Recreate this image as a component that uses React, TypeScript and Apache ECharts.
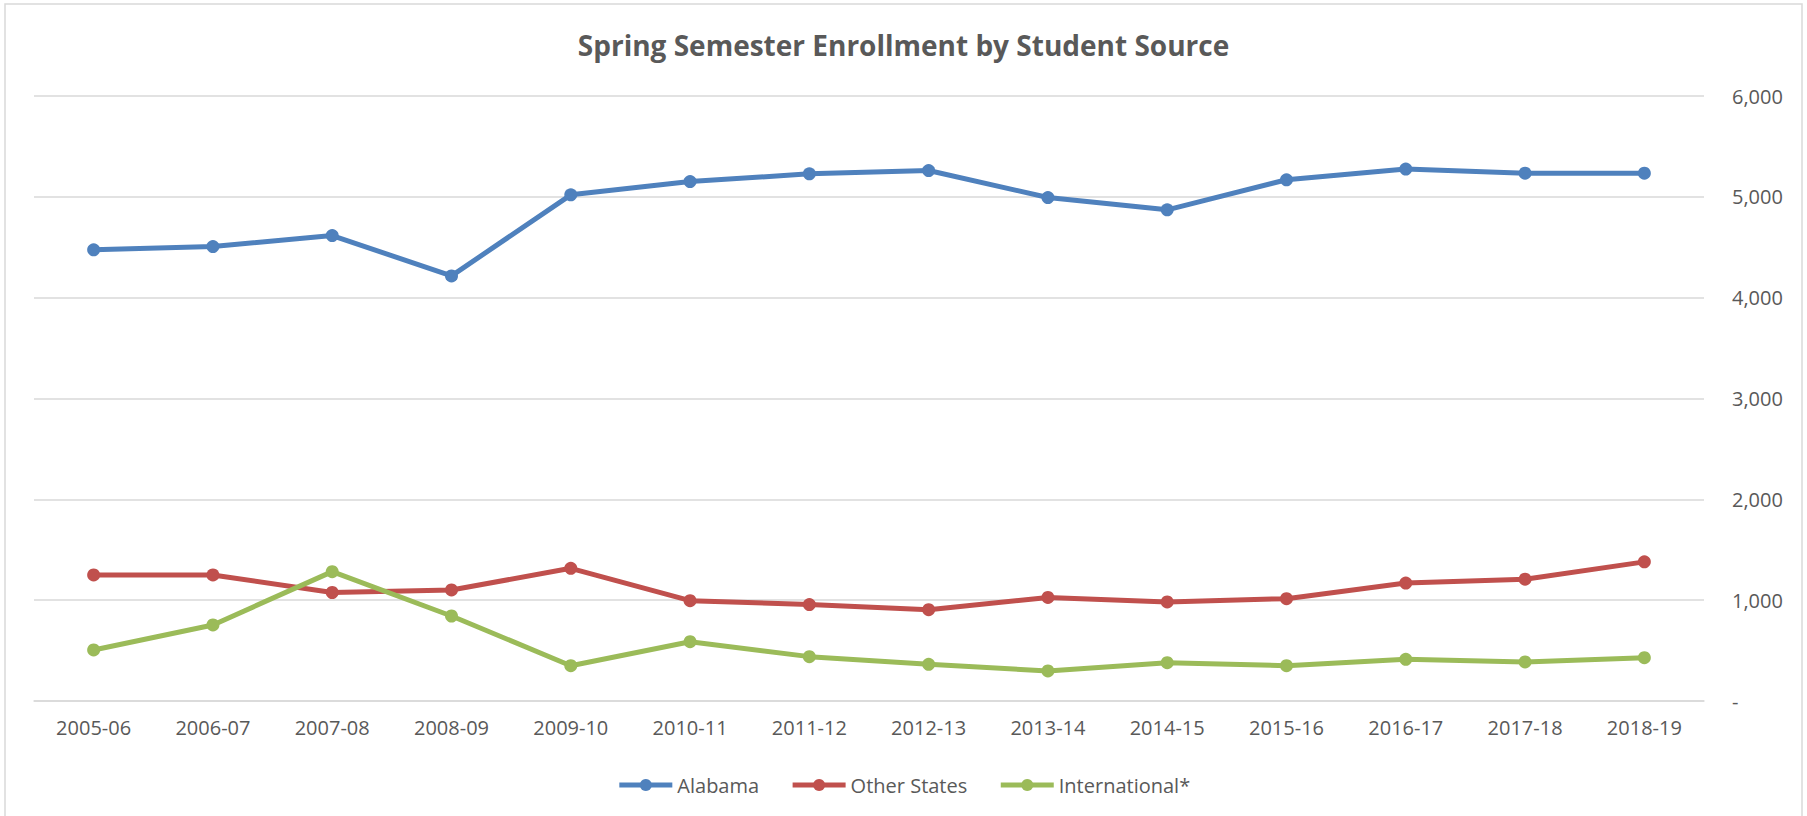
import React, { useEffect, useRef } from "react";
import * as echarts from "echarts";

const categories = [
  "2005-06", "2006-07", "2007-08", "2008-09", "2009-10", "2010-11", "2011-12",
  "2012-13", "2013-14", "2014-15", "2015-16", "2016-17", "2017-18", "2018-19",
];
const alabama = [4474, 4507, 4616, 4216, 5020, 5152, 5228, 5261, 4993, 4871, 5169, 5275, 5235, 5235];
const otherStates = [1250, 1250, 1076, 1101, 1316, 995, 956, 906, 1027, 982, 1015, 1170, 1208, 1380];
const international = [506, 754, 1283, 843, 350, 588, 440, 364, 298, 380, 350, 413, 387, 430];
const yTicks = { min: 0, max: 6000, interval: 1000 };
const title = "Spring Semester Enrollment by Student Source";

const FONT = "'Open Sans', 'Noto Sans', sans-serif";
const TEXT = "#595959";
const GRID = "#D9D9D9";

export default function App() {
  const ref = useRef<HTMLDivElement>(null);
  useEffect(() => {
    if (!ref.current) return;
    const chart = echarts.init(ref.current, undefined, { renderer: "svg" });
    const mk = (name: string, data: number[], color: string) => ({
      name,
      type: "line",
      data,
      color,
      symbol: "circle",
      symbolSize: 13,
      lineStyle: { width: 5, color },
      itemStyle: { color },
    });
    chart.setOption({
      animation: false,
      backgroundColor: "#fff",
      textStyle: { fontFamily: FONT },
      title: {
        text: title,
        left: "center",
        top: 26,
        textStyle: { fontFamily: FONT, fontSize: 28, fontWeight: "bold", color: TEXT },
      },
      graphic: [
        {
          type: "rect",
          shape: { x: 5, y: 4, width: 1797, height: 830 },
          style: { fill: "none", stroke: GRID, lineWidth: 1.5 },
          silent: true,
          z: -1,
        },
      ],
      legend: {
        left: "center",
        top: 770,
        itemWidth: 53,
        itemHeight: 15,
        itemGap: 31,
        lineStyle: { width: 5 },
        textStyle: { fontFamily: FONT, fontSize: 20, color: TEXT },
        data: ["Alabama", "Other States", "International*"],
      },
      grid: { left: 34, right: 103, top: 96, bottom: 115 },
      xAxis: {
        type: "category",
        data: categories,
        boundaryGap: true,
        axisLine: { show: true, lineStyle: { color: GRID, width: 1.5 } },
        axisTick: { show: false },
        axisLabel: { fontFamily: FONT, fontSize: 20, color: TEXT, margin: 16, interval: 0 },
      },
      yAxis: {
        type: "value",
        position: "right",
        min: yTicks.min,
        max: yTicks.max,
        interval: yTicks.interval,
        axisLine: { show: false },
        axisTick: { show: false },
        splitLine: { lineStyle: { color: GRID, width: 1.5 } },
        axisLabel: {
          fontFamily: FONT,
          fontSize: 20,
          color: TEXT,
          margin: 28,
          formatter: (v: number) => (v === 0 ? "-" : v.toLocaleString("en-US")),
        },
      },
      series: [
        mk("Alabama", alabama, "#4F81BD"),
        mk("Other States", otherStates, "#C0504D"),
        mk("International*", international, "#9BBB59"),
      ],
    });
    return () => chart.dispose();
  }, []);
  return (
    <div
      ref={ref}
      style={{ position: "fixed", left: 0, top: 0, width: 1807, height: 816, background: "#fff" }}
    />
  );
}
